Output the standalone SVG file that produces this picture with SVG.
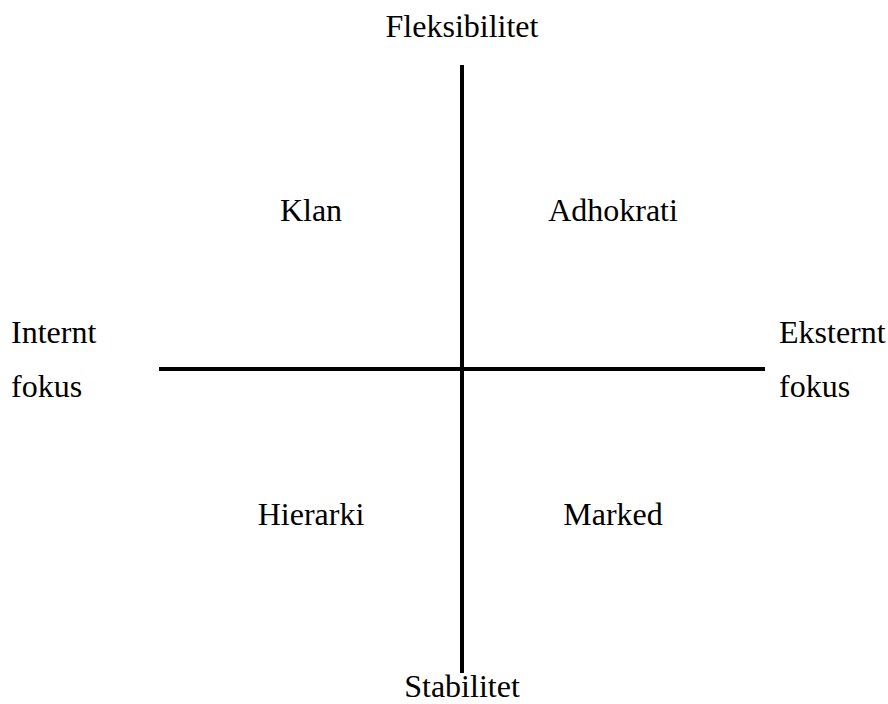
<svg xmlns="http://www.w3.org/2000/svg" width="888" height="704" viewBox="0 0 888 704">
<defs>
<style>
.c{text-anchor:middle}
.ax{stroke:#000;fill:none;stroke-width:4}
</style>
</defs>
<rect width="888" height="704" fill="#fff"/>
<g id="connectors">
<line class="ax" x1="462" y1="65" x2="462" y2="673"/>
<line class="ax" x1="159" y1="369" x2="765" y2="369"/>
</g>
<g font-family="Liberation Serif" font-size="32" fill="#000">
<g id="fleksibilitet"><text class="c" x="462" y="37">Fleksibilitet</text></g>
<g id="stabilitet"><text class="c" x="462" y="697">Stabilitet</text></g>
<g id="internt"><text x="11" y="343">Internt</text><text x="11" y="397">fokus</text></g>
<g id="eksternt"><text x="779" y="343">Eksternt</text><text x="779" y="397">fokus</text></g>
<g id="klan"><text class="c" x="311" y="221">Klan</text></g>
<g id="adhokrati"><text class="c" x="613" y="221">Adhokrati</text></g>
<g id="hierarki"><text class="c" x="311" y="525">Hierarki</text></g>
<g id="marked"><text class="c" x="613" y="525">Marked</text></g>
</g>
</svg>
